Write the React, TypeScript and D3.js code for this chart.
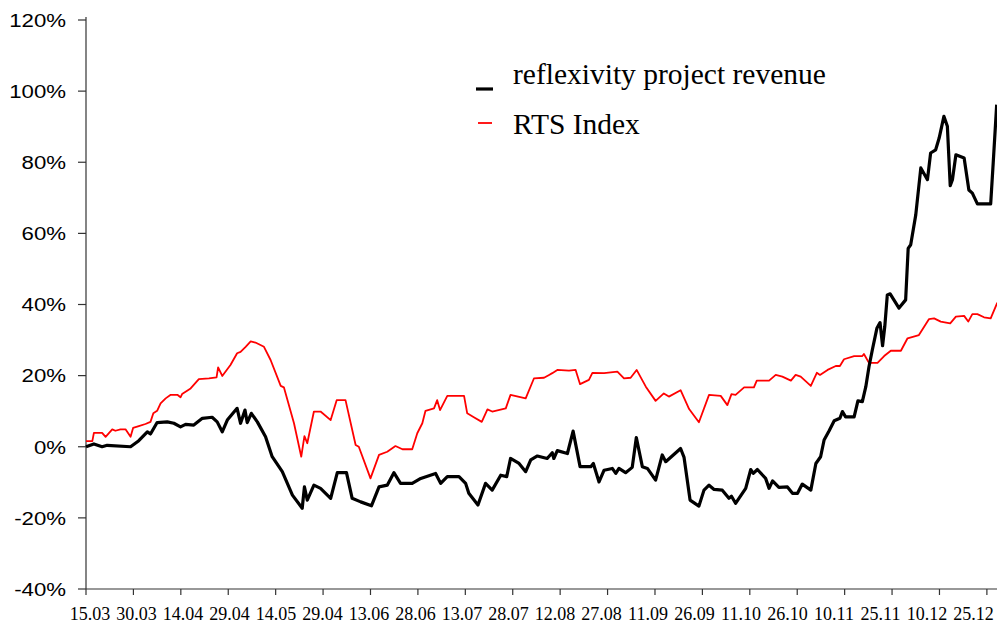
import React from "react";
import * as d3 from "d3";

const X_LABELS = ["15.03","30.03","14.04","29.04","14.05","29.04","13.06","28.06","13.07","28.07","12.08","27.08","11.09","26.09","11.10","26.10","10.11","25.11","10.12","25.12"];
const Y_TICKS = [-40, -20, 0, 20, 40, 60, 80, 100, 120];

const RTS_DAYS = [0,2.0,2.5,5.1,6.2,8.3,9.3,10.9,12.5,14.1,14.9,16.7,18.8,20.4,21.3,22.5,23.6,25.2,26.8,28.9,29.9,30.4,33.1,35.7,38.9,41.3,41.8,43.1,45.7,47.8,48.9,50.5,52.1,53.6,56.3,58.4,61.6,62.6,65.8,68.1,69.1,70.0,72.1,74.2,77.4,79.3,82.1,85.3,86.3,90.0,92.7,95.3,97.9,100.1,103.2,104.8,106.4,107.4,110.1,111.1,112.0,114.3,119.6,120.6,122.7,125.2,127.0,128.5,132.8,134.3,139.1,141.7,144.9,146.5,147.5,149.1,152.8,154.9,156.3,159.1,160.2,163.9,168.1,170.2,172.3,174.2,177.1,180.2,182.8,184.4,188.1,190.8,193.9,197.1,200.8,202.9,204.2,205.5,208.2,211.3,212.2,216.1,218.2,220.3,223.0,224.5,226.1,229.3,231.2,232.2,234.6,237.2,238.5,239.8,243.0,245.6,246.1,247.7,250.4,252.5,254.6,257.8,259.9,263.5,266.7,268.3,270.4,273.4,275.2,277.8,279.1,280.4,282.0,284.1,286.2,288.3];
const RTS_VALUES = [1.6,1.6,3.9,3.9,2.8,4.9,4.5,4.9,4.9,2.8,5.3,5.8,6.4,7.0,9.4,10.1,12.2,13.6,14.6,14.6,13.9,14.8,16.4,19.0,19.2,19.5,22.3,19.9,23.0,26.3,26.7,28.1,29.6,29.3,28.1,24.4,17.1,16.7,6.6,-2.8,3.0,1.0,9.9,9.9,7.5,13.1,13.1,0.5,0,-8.9,-2.3,-1.4,0.2,-0.7,-0.7,3.8,6.6,10.1,10.8,13.1,10.3,14.3,14.3,9.4,8.3,7.0,10.5,9.9,10.8,14.6,13.6,19.2,19.4,20.2,20.7,21.6,21.4,21.6,17.6,18.8,20.8,20.7,21.1,19.2,19.4,21.6,16.9,12.9,15.0,14.1,15.9,10.6,6.9,14.6,14.3,11.7,14.8,14.6,16.7,16.7,18.6,18.6,20.2,19.7,18.6,20.2,19.7,17.1,20.8,20.2,21.6,22.7,22.7,24.6,25.5,25.5,26.1,23.6,23.6,25.5,27.0,27.0,30.5,31.4,35.9,36.1,35.2,34.7,36.6,36.8,35.2,37.3,37.3,36.4,36.1,40.5];

const REV_DAYS = [0,2.5,5.1,6.7,14.1,16.7,19.4,20.4,22.5,25.7,27.8,29.9,31.5,34.1,36.8,39.9,41.5,43.1,44.7,47.8,48.9,50.3,51.0,52.3,54.2,56.8,58.9,62.1,65.3,68.4,69.1,70.0,72.1,74.2,77.4,79.5,82.4,84.2,86.9,90.3,92.7,95.3,97.4,99.5,103.2,105.9,110.6,112.2,114.3,118.0,120.1,121.1,124.0,126.4,128.5,131.2,133.1,134.3,137.0,139.1,140.7,142.8,145.9,147.5,148.0,149.1,152.3,154.1,156.3,159.7,160.5,162.3,163.9,166.5,167.6,168.6,170.7,172.8,174.1,176.0,177.6,180.2,182.3,183.4,188.1,189.2,191.1,193.9,195.5,197.1,198.7,201.3,203.4,204.2,205.5,208.7,210.3,211.1,212.4,215.0,216.1,217.2,219.2,221.9,223.5,225.1,226.6,229.3,230.9,232.4,233.5,235.1,236.7,238.5,239.3,240.3,243.0,244.2,245.6,246.7,247.7,248.8,250.2,251.2,252.0,252.7,253.5,254.4,257.2,259.3,260.1,260.9,262.5,264.1,266.2,267.2,268.8,269.9,271.4,272.5,273.4,274.1,275.2,277.8,279.3,280.4,282.0,286.2,287.0,288.1];
const REV_VALUES = [0,0.8,0,0.4,0,1.7,4.2,3.6,6.8,7.0,6.6,5.6,6.3,6.1,8.0,8.3,7.0,4.2,7.5,10.8,6.6,10.3,6.8,9.4,7.0,2.8,-2.8,-7.0,-13.6,-17.3,-11.3,-15.0,-10.8,-11.7,-14.5,-7.3,-7.3,-14.5,-15.5,-16.6,-11.3,-10.8,-7.3,-10.3,-10.3,-8.9,-7.5,-10.3,-8.4,-8.4,-10.3,-13.1,-16.4,-10.3,-12.2,-8.0,-8.4,-3.3,-4.7,-7.0,-3.7,-2.6,-3.3,-1.7,-3.3,-1.1,-1.9,4.4,-5.6,-5.6,-4.7,-9.9,-6.6,-6.1,-7.5,-6.1,-7.3,-5.8,2.6,-5.6,-6.1,-9.4,-2.3,-4.2,-0.5,-3.0,-15.0,-16.7,-12.2,-10.8,-12.0,-12.2,-14.5,-13.9,-15.9,-11.7,-6.4,-7.5,-6.4,-8.9,-11.7,-9.6,-11.4,-11.3,-13.1,-13.1,-10.5,-12.2,-4.7,-2.8,1.9,4.5,7.3,8.0,9.9,8.4,8.4,12.9,12.7,16.9,22.5,27.4,33.3,34.9,28.4,33.8,42.7,43.0,39.0,41.3,55.8,56.8,65.2,78.4,75.1,82.6,83.5,86.8,92.9,90.1,73.4,75.1,82.1,81.2,72.2,71.3,68.3,68.3,79.8,96.2];

const LEGEND = [
  { name: "reflexivity project revenue", color: "#000000" },
  { name: "RTS Index", color: "#ff0000" },
];

export default function App() {
  const W = 997, H = 631;
  const left = 86, right = 997, top = 20, bottom = 589;
  const x = d3.scaleLinear().domain([0, 288.2]).range([left, right]);
  const y = d3.scaleLinear().domain([-40, 120]).range([bottom, top]);
  const line = d3.line<[number, number]>().x(d => x(d[0])).y(d => y(d[1]));
  const rts: [number, number][] = RTS_DAYS.map((d, i) => [d, RTS_VALUES[i]]);
  const rev: [number, number][] = REV_DAYS.map((d, i) => [d, REV_VALUES[i]]);
  const tickDays = d3.range(0, 20).map(i => i * 15);
  const labelX = (i: number) => 90 + i * 46.5;

  return (
    <svg width={W} height={H} style={{ position: "absolute", left: 0, top: 0, background: "#fff" }}>
      <rect x={0} y={0} width={W} height={H} fill="#fff" />
      {/* Y axis */}
      <line x1={left} x2={left} y1={top - 3} y2={bottom} stroke="#333" strokeWidth={1.2} />
      {Y_TICKS.map(t => (
        <g key={t}>
          <line x1={left - 8} x2={left} y1={y(t)} y2={y(t)} stroke="#333" strokeWidth={1.2} />
          <g transform={`translate(66,${y(t)}) scale(1.17,1)`}>
            <text x={0} y={0} dy="0.36em" textAnchor="end" fontFamily="'Liberation Sans', Arial, sans-serif" fontSize={19} fill="#000">{t}%</text>
          </g>
        </g>
      ))}
      {/* X axis */}
      <line x1={left} x2={right} y1={bottom} y2={bottom} stroke="#333" strokeWidth={1.2} />
      {tickDays.map(d => (
        <line key={d} x1={x(d)} x2={x(d)} y1={bottom} y2={bottom + 6} stroke="#333" strokeWidth={1.2} />
      ))}
      {X_LABELS.map((l, i) => (
        <text key={i} x={labelX(i)} y={620} textAnchor="middle" fontFamily="'Liberation Serif', 'Times New Roman', serif" fontSize={18} fill="#000">{l}</text>
      ))}
      {/* Series */}
      <path d={line(rts) || ""} fill="none" stroke="#ff0000" strokeWidth={1.8} strokeLinejoin="round" />
      <path d={line(rev) || ""} fill="none" stroke="#000000" strokeWidth={3.2} strokeLinejoin="round" />
      {/* Legend */}
      <line x1={476} x2={493} y1={89} y2={89} stroke={LEGEND[0].color} strokeWidth={3.2} />
      <text x={513} y={84} fontFamily="'Liberation Serif', 'Times New Roman', serif" fontSize={29.5} fill="#000">{LEGEND[0].name}</text>
      <line x1={478} x2={492} y1={123} y2={123} stroke={LEGEND[1].color} strokeWidth={1.8} />
      <text x={513} y={134} fontFamily="'Liberation Serif', 'Times New Roman', serif" fontSize={29.5} fill="#000">{LEGEND[1].name}</text>
    </svg>
  );
}
